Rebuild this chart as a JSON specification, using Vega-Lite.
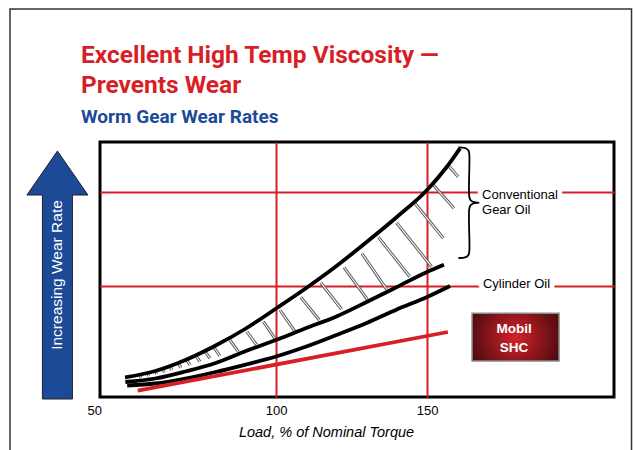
{
  "$schema": "https://vega.github.io/schema/vega-lite/v6.json",
  "width": 514,
  "height": 255,
  "autosize": "none",
  "padding": {"left": 100, "top": 142, "right": 22, "bottom": 53},
  "background": "white",
  "config": {"view": {"stroke": "black", "strokeWidth": 3}},
  "title": {
    "text": ["Excellent High Temp Viscosity —", "Prevents Wear"],
    "subtitle": "Worm Gear Wear Rates",
    "anchor": "start",
    "frame": "group",
    "dx": -19,
    "font": "Roboto",
    "fontSize": 24.5,
    "fontWeight": "bold",
    "color": "#d71f27",
    "lineHeight": 30,
    "subtitleFont": "Roboto",
    "subtitleFontSize": 19,
    "subtitleFontWeight": "bold",
    "subtitleColor": "#1b4a99",
    "subtitlePadding": 10,
    "offset": -120
  },
  "datasets": {
    "curves": [
      {"series": "Conventional upper", "load": 50.0, "wear": 19.5},
      {"series": "Conventional upper", "load": 60, "wear": 26},
      {"series": "Conventional upper", "load": 70, "wear": 37},
      {"series": "Conventional upper", "load": 80, "wear": 51.5},
      {"series": "Conventional upper", "load": 90, "wear": 68.5},
      {"series": "Conventional upper", "load": 100, "wear": 88.5},
      {"series": "Conventional upper", "load": 110, "wear": 109},
      {"series": "Conventional upper", "load": 120, "wear": 131},
      {"series": "Conventional upper", "load": 130, "wear": 155},
      {"series": "Conventional upper", "load": 140, "wear": 180},
      {"series": "Conventional upper", "load": 150, "wear": 207},
      {"series": "Conventional upper", "load": 156.5, "wear": 230},
      {"series": "Conventional upper", "load": 160.9, "wear": 248.7},
      {"series": "Conventional lower", "load": 50.1, "wear": 15},
      {"series": "Conventional lower", "load": 60, "wear": 18.5},
      {"series": "Conventional lower", "load": 70, "wear": 25.5},
      {"series": "Conventional lower", "load": 80, "wear": 34},
      {"series": "Conventional lower", "load": 90, "wear": 46},
      {"series": "Conventional lower", "load": 100, "wear": 57},
      {"series": "Conventional lower", "load": 110, "wear": 69},
      {"series": "Conventional lower", "load": 120, "wear": 80.6},
      {"series": "Conventional lower", "load": 130, "wear": 95},
      {"series": "Conventional lower", "load": 140, "wear": 110},
      {"series": "Conventional lower", "load": 150, "wear": 125},
      {"series": "Conventional lower", "load": 155.6, "wear": 132.3},
      {"series": "Cylinder Oil", "load": 50.7, "wear": 11.5},
      {"series": "Cylinder Oil", "load": 60, "wear": 13.5},
      {"series": "Cylinder Oil", "load": 70, "wear": 18.5},
      {"series": "Cylinder Oil", "load": 80, "wear": 25},
      {"series": "Cylinder Oil", "load": 90, "wear": 32.5},
      {"series": "Cylinder Oil", "load": 100, "wear": 40.5},
      {"series": "Cylinder Oil", "load": 110, "wear": 50.5},
      {"series": "Cylinder Oil", "load": 120, "wear": 62},
      {"series": "Cylinder Oil", "load": 130, "wear": 74},
      {"series": "Cylinder Oil", "load": 140, "wear": 87.5},
      {"series": "Cylinder Oil", "load": 150, "wear": 100},
      {"series": "Cylinder Oil", "load": 157.6, "wear": 111},
      {"series": "Mobil SHC", "load": 54.2, "wear": 6.3},
      {"series": "Mobil SHC", "load": 156.9, "wear": 65}
    ],
    "hatches": [
      {"load": 54.9, "wear": 21.3, "load2": 55.3, "wear2": 19.3},
      {"load": 57.4, "wear": 23.7, "load2": 57.8, "wear2": 21.0},
      {"load": 59.9, "wear": 26.0, "load2": 60.5, "wear2": 23.0},
      {"load": 62.5, "wear": 28.0, "load2": 63.0, "wear2": 24.7},
      {"load": 64.9, "wear": 30.3, "load2": 65.5, "wear2": 27.0},
      {"load": 67.6, "wear": 33.7, "load2": 68.5, "wear2": 29.3},
      {"load": 70.4, "wear": 37.0, "load2": 71.5, "wear2": 32.0},
      {"load": 73.5, "wear": 41.0, "load2": 74.8, "wear2": 35.3},
      {"load": 76.5, "wear": 45.3, "load2": 78.1, "wear2": 38.7},
      {"load": 79.4, "wear": 49.7, "load2": 81.4, "wear2": 41.0},
      {"load": 84.7, "wear": 57.0, "load2": 87.5, "wear2": 45.3},
      {"load": 90.3, "wear": 65.3, "load2": 93.6, "wear2": 52.0},
      {"load": 95.8, "wear": 75.3, "load2": 99.6, "wear2": 58.7},
      {"load": 101.3, "wear": 87.0, "load2": 106.3, "wear2": 65.3},
      {"load": 108.2, "wear": 99.7, "load2": 114.3, "wear2": 77.0},
      {"load": 114.8, "wear": 114.3, "load2": 121.7, "wear2": 87.7},
      {"load": 122.5, "wear": 129.7, "load2": 130.2, "wear2": 97.7},
      {"load": 128.4, "wear": 143.7, "load2": 136.6, "wear2": 107.7},
      {"load": 133.9, "wear": 159.7, "load2": 144.3, "wear2": 120.3},
      {"load": 139.9, "wear": 174.3, "load2": 151.5, "wear2": 130.3},
      {"load": 146.0, "wear": 193.7, "load2": 155.4, "wear2": 158.7},
      {"load": 152.1, "wear": 212.0, "load2": 158.9, "wear2": 188.7},
      {"load": 157.4, "wear": 230.3, "load2": 160.3, "wear2": 220.3}
    ],
    "brace": [
      {"i": 0, "load": 160.4, "wear": 249.7},
      {"i": 1, "load": 162.6, "wear": 249.0},
      {"i": 2, "load": 163.7, "wear": 246.5},
      {"i": 3, "load": 164.0, "wear": 242.0},
      {"i": 4, "load": 164.0, "wear": 200.0},
      {"i": 5, "load": 164.5, "wear": 196.5},
      {"i": 6, "load": 165.6, "wear": 194.8},
      {"i": 7, "load": 167.1, "wear": 194.3},
      {"i": 8, "load": 165.6, "wear": 193.8},
      {"i": 9, "load": 164.5, "wear": 192.1},
      {"i": 10, "load": 164.0, "wear": 188.6},
      {"i": 11, "load": 164.0, "wear": 146.6},
      {"i": 12, "load": 163.7, "wear": 142.1},
      {"i": 13, "load": 162.6, "wear": 139.6},
      {"i": 14, "load": 160.4, "wear": 139.0}
    ],
    "gridLabels": [
      {"label": "Conventional", "load": 168.2, "wear": 198},
      {"label": "Cylinder Oil", "load": 168.5, "wear": 108.7}
    ],
    "labels": [
      {"label": "Conventional", "load": 168.2, "wear": 198},
      {"label": "Gear Oil", "load": 168.2, "wear": 183},
      {"label": "Cylinder Oil", "load": 168.5, "wear": 108.7}
    ],
    "box": [
      {"load": 164.9, "wear": 83.7, "load2": 193.7, "wear2": 36}
    ],
    "boxText": [
      {"label": "Mobil", "load": 178.8, "wear": 63.7},
      {"label": "SHC", "load": 178.8, "wear": 45.3}
    ],
    "border": [
      {"load": 11.9, "wear": 388, "load2": 217.7, "wear2": -80}
    ],
    "arrow": [
      {"load": 27.6, "wear": 122, "label": "Increasing Wear Rate"}
    ]
  },
  "encoding": {
    "x": {
      "field": "load",
      "type": "quantitative",
      "scale": {"domain": [41.7, 211.9], "nice": false, "zero": false},
      "axis": {
        "values": [41.8, 100, 150],
        "labelExpr": "datum.value < 50 ? '50' : format(datum.value, 'd')",
        "labelOffset": {"condition": {"test": "datum.value < 50", "value": -6}, "value": 0},
        "gridOpacity": {"condition": {"test": "datum.value < 50", "value": 0}, "value": 1},
        "grid": true,
        "gridColor": "#d71f27",
        "gridWidth": 2,
        "ticks": false,
        "tickSize": 0,
        "domain": false,
        "labelFlush": false,
        "labelOverlap": false,
        "labelFont": "Liberation Sans",
        "labelFontSize": 13,
        "labelColor": "black",
        "labelPadding": 7,
        "title": "Load, % of Nominal Torque",
        "titleFont": "Liberation Sans",
        "titleFontStyle": "italic",
        "titleFontWeight": "normal",
        "titleFontSize": 14.5,
        "titleColor": "black",
        "titleX": 226,
        "titleY": 39,
        "titleBaseline": "alphabetic",
        "titleAlign": "center"
      }
    },
    "y": {
      "field": "wear",
      "type": "quantitative",
      "scale": {"domain": [0, 255], "nice": false, "zero": false},
      "axis": {
        "values": [111, 205],
        "grid": true,
        "gridColor": "#d71f27",
        "gridWidth": 2,
        "labels": false,
        "ticks": false,
        "domain": false,
        "title": null
      }
    }
  },
  "layer": [
    {
      "data": {"name": "border"},
      "mark": {"type": "rect", "fillOpacity": 0, "stroke": "#333333", "strokeWidth": 1.5},
      "encoding": {"x2": {"field": "load2"}, "y2": {"field": "wear2"}}
    },
    {
      "data": {"name": "arrow"},
      "mark": {
        "type": "point",
        "shape": "M0,-1L0.246,-0.645L0.121,-0.645L0.121,1L-0.121,1L-0.121,-0.645L-0.246,-0.645Z",
        "size": 61504,
        "filled": true,
        "fill": "#1c4a97",
        "stroke": "#222222",
        "strokeWidth": 1,
        "opacity": 1
      }
    },
    {
      "data": {"name": "arrow"},
      "mark": {"type": "text", "angle": 270, "align": "center", "baseline": "middle", "font": "Liberation Sans", "fontSize": 15.5, "fill": "white"},
      "encoding": {"text": {"field": "label"}}
    },
    {
      "data": {"name": "hatches"},
      "mark": {"type": "rule", "stroke": "#555555", "strokeWidth": 3},
      "encoding": {"x2": {"field": "load2"}, "y2": {"field": "wear2"}}
    },
    {
      "data": {"name": "hatches"},
      "mark": {"type": "rule", "stroke": "white", "strokeWidth": 1.1},
      "encoding": {"x2": {"field": "load2"}, "y2": {"field": "wear2"}}
    },
    {
      "data": {"name": "curves"},
      "mark": {"type": "line", "strokeWidth": 3.8, "interpolate": "monotone", "strokeCap": "butt"},
      "encoding": {
        "color": {
          "field": "series",
          "type": "nominal",
          "scale": {"domain": ["Conventional upper", "Conventional lower", "Cylinder Oil", "Mobil SHC"], "range": ["black", "black", "black", "#d71f27"]},
          "legend": null
        }
      }
    },
    {
      "data": {"name": "gridLabels"},
      "mark": {"type": "text", "align": "left", "baseline": "alphabetic", "font": "Liberation Sans", "fontSize": 13, "fill": "white", "stroke": "white", "strokeWidth": 10, "strokeJoin": "round"},
      "encoding": {"text": {"field": "label"}}
    },
    {
      "data": {"name": "brace"},
      "mark": {"type": "line", "stroke": "black", "strokeWidth": 1.8, "interpolate": "catmull-rom"},
      "encoding": {"order": {"field": "i", "type": "quantitative"}}
    },
    {
      "data": {"name": "labels"},
      "mark": {"type": "text", "align": "left", "baseline": "alphabetic", "font": "Liberation Sans", "fontSize": 13, "fill": "black"},
      "encoding": {"text": {"field": "label"}}
    },
    {
      "data": {"name": "box"},
      "mark": {
        "type": "rect",
        "fill": {"gradient": "radial", "x1": 0.5, "y1": 0.5, "x2": 0.5, "y2": 0.5, "r1": 0, "r2": 0.7,
                 "stops": [{"offset": 0, "color": "#d52229"}, {"offset": 1, "color": "#240507"}]},
        "stroke": "#8a8a8a",
        "strokeWidth": 1.5
      },
      "encoding": {"x2": {"field": "load2"}, "y2": {"field": "wear2"}}
    },
    {
      "data": {"name": "boxText"},
      "mark": {"type": "text", "align": "center", "baseline": "alphabetic", "font": "Liberation Sans", "fontWeight": "bold", "fontSize": 13.5, "fill": "white"},
      "encoding": {"text": {"field": "label"}}
    }
  ]
}
